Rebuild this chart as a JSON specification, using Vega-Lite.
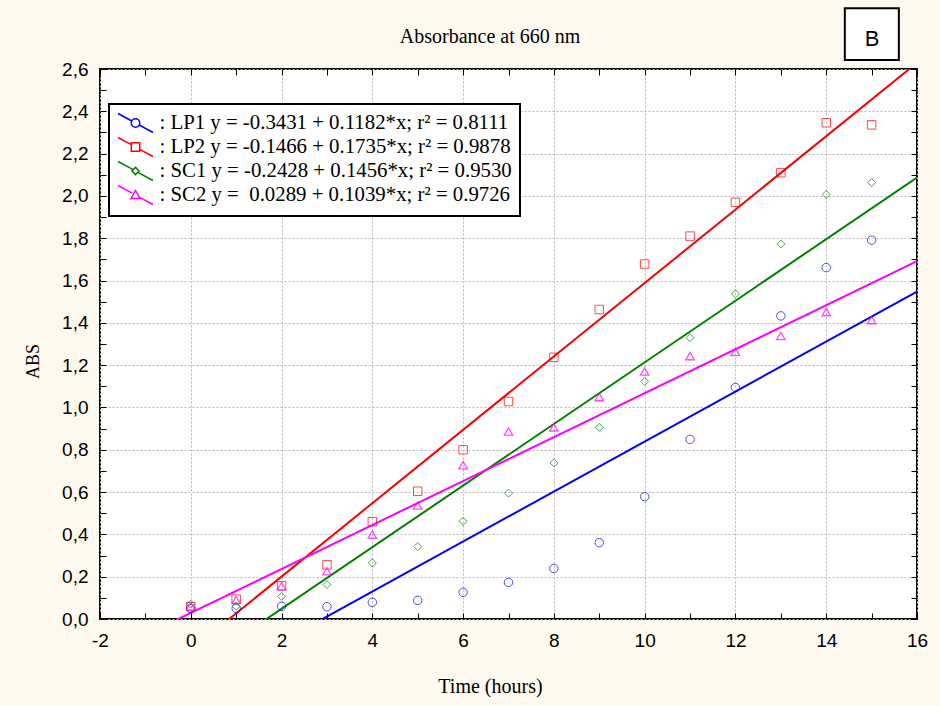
{
  "$schema": "https://vega.github.io/schema/vega-lite/v6.json",
  "width": 817,
  "height": 550,
  "autosize": "none",
  "padding": {"left": 100, "top": 69, "right": 23, "bottom": 87},
  "background": "#fdf9ee",
  "config": {
    "view": {"fill": "white", "stroke": "black", "strokeWidth": 2},
    "axis": {"domain": false, "tickColor": "black", "tickWidth": 1, "labelOverlap": false, "labelBound": false, "labelFlush": false}
  },
  "title": {"text": "Absorbance at 660 nm", "font": "Liberation Serif", "fontSize": 20, "fontWeight": "normal", "color": "black", "anchor": "middle", "dx": -18.5, "offset": 0, "dy": 56, "baseline": "alphabetic"},
  "datasets": {
    "fits": [
      {"series": "LP1", "x": -2, "y": -0.5795}, {"series": "LP1", "x": 16, "y": 1.5481},
      {"series": "LP2", "x": -2, "y": -0.4936}, {"series": "LP2", "x": 16, "y": 2.6294},
      {"series": "SC1", "x": -2, "y": -0.534}, {"series": "SC1", "x": 16, "y": 2.0868},
      {"series": "SC2", "x": -2, "y": -0.1789}, {"series": "SC2", "x": 16, "y": 1.6913}
    ],
    "points": [
      {"series": "LP1", "x": 0, "y": 0.05}, {"series": "LP1", "x": 1, "y": 0.05}, {"series": "LP1", "x": 2, "y": 0.06}, {"series": "LP1", "x": 3, "y": 0.058},
      {"series": "LP1", "x": 4, "y": 0.079}, {"series": "LP1", "x": 5, "y": 0.088}, {"series": "LP1", "x": 6, "y": 0.126}, {"series": "LP1", "x": 7, "y": 0.173},
      {"series": "LP1", "x": 8, "y": 0.239}, {"series": "LP1", "x": 9, "y": 0.361}, {"series": "LP1", "x": 10, "y": 0.578}, {"series": "LP1", "x": 11, "y": 0.849},
      {"series": "LP1", "x": 12, "y": 1.094}, {"series": "LP1", "x": 13, "y": 1.433}, {"series": "LP1", "x": 14, "y": 1.661}, {"series": "LP1", "x": 15, "y": 1.791},
      {"series": "LP2", "x": 0, "y": 0.058}, {"series": "LP2", "x": 1, "y": 0.094}, {"series": "LP2", "x": 2, "y": 0.157}, {"series": "LP2", "x": 3, "y": 0.256},
      {"series": "LP2", "x": 4, "y": 0.46}, {"series": "LP2", "x": 5, "y": 0.604}, {"series": "LP2", "x": 6, "y": 0.8}, {"series": "LP2", "x": 7, "y": 1.028},
      {"series": "LP2", "x": 8, "y": 1.237}, {"series": "LP2", "x": 9, "y": 1.463}, {"series": "LP2", "x": 10, "y": 1.678}, {"series": "LP2", "x": 11, "y": 1.81},
      {"series": "LP2", "x": 12, "y": 1.97}, {"series": "LP2", "x": 13, "y": 2.11}, {"series": "LP2", "x": 14, "y": 2.346}, {"series": "LP2", "x": 15, "y": 2.336},
      {"series": "SC1", "x": 0, "y": 0.07}, {"series": "SC1", "x": 1, "y": 0.06}, {"series": "SC1", "x": 2, "y": 0.107}, {"series": "SC1", "x": 3, "y": 0.163},
      {"series": "SC1", "x": 4, "y": 0.265}, {"series": "SC1", "x": 5, "y": 0.342}, {"series": "SC1", "x": 6, "y": 0.462}, {"series": "SC1", "x": 7, "y": 0.595},
      {"series": "SC1", "x": 8, "y": 0.738}, {"series": "SC1", "x": 9, "y": 0.906}, {"series": "SC1", "x": 10, "y": 1.123}, {"series": "SC1", "x": 11, "y": 1.33},
      {"series": "SC1", "x": 12, "y": 1.537}, {"series": "SC1", "x": 13, "y": 1.773}, {"series": "SC1", "x": 14, "y": 2.007}, {"series": "SC1", "x": 15, "y": 2.063},
      {"series": "SC2", "x": 0, "y": 0.06}, {"series": "SC2", "x": 1, "y": 0.09}, {"series": "SC2", "x": 2, "y": 0.155}, {"series": "SC2", "x": 3, "y": 0.226},
      {"series": "SC2", "x": 4, "y": 0.399}, {"series": "SC2", "x": 5, "y": 0.537}, {"series": "SC2", "x": 6, "y": 0.727}, {"series": "SC2", "x": 7, "y": 0.887},
      {"series": "SC2", "x": 8, "y": 0.906}, {"series": "SC2", "x": 9, "y": 1.049}, {"series": "SC2", "x": 10, "y": 1.17}, {"series": "SC2", "x": 11, "y": 1.243},
      {"series": "SC2", "x": 12, "y": 1.262}, {"series": "SC2", "x": 13, "y": 1.338}, {"series": "SC2", "x": 14, "y": 1.451}, {"series": "SC2", "x": 15, "y": 1.413}
    ],
    "note": [{"label": "B"}]
  },
  "resolve": {"axis": {"x": "independent", "y": "independent"}},
  "layer": [
    {
      "data": {"name": "fits"},
      "mark": {"type": "line", "clip": true, "strokeWidth": 2},
      "encoding": {
        "x": {"field": "x", "type": "quantitative",
          "scale": {"domain": [-2, 16], "nice": false, "zero": false},
          "axis": {"orient": "bottom", "values": [-2,-1,0,1,2,3,4,5,6,7,8,9,10,11,12,13,14,15,16],
            "labelExpr": "datum.value % 2 == 0 ? '' + datum.value : ''",
            "grid": true, "gridDash": [2, 2], "gridColor": "#b8b8b8", "gridWidth": 1,
            "gridOpacity": {"condition": {"test": "datum.value % 2 == 0", "value": 1}, "value": 0},
            "tickSize": -6, "labelFont": "Liberation Sans", "labelFontSize": 19, "labelColor": "black", "labelPadding": 18,
            "title": "Time (hours)", "titleFont": "Liberation Serif", "titleFontSize": 20, "titleFontWeight": "normal", "titleColor": "black",
            "titleX": 390, "titleY": 73, "titleBaseline": "alphabetic", "titleAlign": "center"}},
        "y": {"field": "y", "type": "quantitative",
          "scale": {"domain": [0, 2.6], "nice": false, "zero": false},
          "axis": {"orient": "left", "values": [0,0.1,0.2,0.3,0.4,0.5,0.6,0.7,0.8,0.9,1.0,1.1,1.2,1.3,1.4,1.5,1.6,1.7,1.8,1.9,2.0,2.1,2.2,2.3,2.4,2.5,2.6],
            "labelExpr": "round(datum.value*10) % 2 == 0 ? replace(format(datum.value, '.1f'), '.', ',') : ''",
            "grid": true, "gridDash": [2, 2], "gridColor": "#b8b8b8", "gridWidth": 1,
            "gridOpacity": {"condition": {"test": "round(datum.value*10) % 2 == 0", "value": 1}, "value": 0},
            "tickSize": -6, "labelFont": "Liberation Sans", "labelFontSize": 19, "labelColor": "black", "labelPadding": 18,
            "title": "ABS", "titleFont": "Liberation Serif", "titleFontSize": 18, "titleFontWeight": "normal", "titleColor": "black",
            "titleAngle": -90, "titleX": -61.5, "titleY": 292, "titleBaseline": "alphabetic", "titleAlign": "center"}},
        "color": {"field": "series", "type": "nominal",
          "scale": {"domain": ["LP1", "LP2", "SC1", "SC2"], "range": ["#0000ff", "#ff0000", "#008000", "#ff00ff"]},
          "legend": {"orient": "none", "legendX": 9, "legendY": 35, "title": null, "direction": "vertical",
            "fillColor": "white", "strokeColor": "black", "padding": 8, "symbolSize": 400, "symbolStrokeWidth": 1.5,
            "symbolOffset": 7.5, "labelOffset": 13, "rowPadding": -2, "labelFont": "Liberation Serif", "labelFontSize": 20.8,
            "labelColor": "black", "labelLimit": 0, "symbolType": "M-1.75,-0.95L1.75,0.95",
            "labelExpr": "datum.label == 'LP1' ? ': LP1 y = -0.3431 + 0.1182*x; r² = 0.8111' : datum.label == 'LP2' ? ': LP2 y = -0.1466 + 0.1735*x; r² = 0.9878' : datum.label == 'SC1' ? ': SC1 y = -0.2428 + 0.1456*x; r² = 0.9530' : ': SC2 y =\u00a0 0.0289 + 0.1039*x; r² = 0.9726'",
            "encode": {
              "symbols": {"update": {
                "shape": {"signal": "datum.value == 'LP1' ? 'M-1.75,-0.95L-0.37,-0.2M0.37,0.2L1.75,0.95M-0.42,0A0.42,0.42 0 1,0 0.42,0A0.42,0.42 0 1,0 -0.42,0Z' : datum.value == 'LP2' ? 'M-1.75,-0.95L-0.42,-0.23M0.42,0.23L1.75,0.95M-0.42,-0.42L0.42,-0.42L0.42,0.42L-0.42,0.42Z' : datum.value == 'SC1' ? 'M-1.75,-0.95L-0.23,-0.13M0.23,0.13L1.75,0.95M0,-0.36L0.36,0L0,0.36L-0.36,0Z' : 'M-1.75,-0.95L-0.33,-0.18M0.33,0.18L1.75,0.95M0,-0.45L0.45,0.35L-0.45,0.35Z'"},
                "strokeWidth": {"value": 1.5}}},
              "legend": {"update": {"strokeWidth": {"value": 2}}}
            }}}
      }
    },
    {
      "data": {"name": "points"},
      "transform": [{"filter": "datum.series == 'LP1'"}],
      "mark": {"type": "point", "shape": "circle", "filled": false, "strokeWidth": 1, "size": 72},
      "encoding": {
        "x": {"field": "x", "type": "quantitative", "axis": null},
        "y": {"field": "y", "type": "quantitative", "axis": null},
        "color": {"field": "series", "type": "nominal", "legend": null,
          "scale": {"domain": ["LP1", "LP2", "SC1", "SC2"], "range": ["#0000ff", "#ff0000", "#008000", "#ff00ff"]}}
      }
    },
    {
      "data": {"name": "points"},
      "transform": [{"filter": "datum.series == 'LP2'"}],
      "mark": {"type": "point", "shape": "square", "filled": false, "strokeWidth": 1, "size": 72},
      "encoding": {
        "x": {"field": "x", "type": "quantitative", "axis": null},
        "y": {"field": "y", "type": "quantitative", "axis": null},
        "color": {"field": "series", "type": "nominal", "legend": null,
          "scale": {"domain": ["LP1", "LP2", "SC1", "SC2"], "range": ["#0000ff", "#ff0000", "#008000", "#ff00ff"]}}
      }
    },
    {
      "data": {"name": "points"},
      "transform": [{"filter": "datum.series == 'SC1'"}],
      "mark": {"type": "point", "shape": "diamond", "filled": false, "strokeWidth": 1, "size": 64},
      "encoding": {
        "x": {"field": "x", "type": "quantitative", "axis": null},
        "y": {"field": "y", "type": "quantitative", "axis": null},
        "color": {"field": "series", "type": "nominal", "legend": null,
          "scale": {"domain": ["LP1", "LP2", "SC1", "SC2"], "range": ["#0000ff", "#ff0000", "#008000", "#ff00ff"]}}
      }
    },
    {
      "data": {"name": "points"},
      "transform": [{"filter": "datum.series == 'SC2'"}],
      "mark": {"type": "point", "shape": "triangle-up", "filled": false, "strokeWidth": 1.3, "size": 72},
      "encoding": {
        "x": {"field": "x", "type": "quantitative", "axis": null},
        "y": {"field": "y", "type": "quantitative", "axis": null},
        "color": {"field": "series", "type": "nominal", "legend": null,
          "scale": {"domain": ["LP1", "LP2", "SC1", "SC2"], "range": ["#0000ff", "#ff0000", "#008000", "#ff00ff"]}}
      }
    },
    {
      "data": {"name": "fits"},
      "mark": {"type": "point", "filled": false, "opacity": 0, "clip": true},
      "encoding": {
        "x": {"field": "x", "type": "quantitative",
          "axis": {"orient": "top", "values": [-2,-1,0,1,2,3,4,5,6,7,8,9,10,11,12,13,14,15,16], "labels": false, "grid": false, "tickSize": -6, "title": null}},
        "y": {"field": "y", "type": "quantitative",
          "axis": {"orient": "right", "values": [0,0.1,0.2,0.3,0.4,0.5,0.6,0.7,0.8,0.9,1.0,1.1,1.2,1.3,1.4,1.5,1.6,1.7,1.8,1.9,2.0,2.1,2.2,2.3,2.4,2.5,2.6], "labels": false, "grid": false, "tickSize": -6, "title": null}}
      }
    },
    {
      "data": {"name": "note"},
      "mark": {"type": "rect", "clip": false, "fill": "white", "stroke": "black", "strokeWidth": 2},
      "encoding": {
        "x": {"datum": 14.41, "type": "quantitative", "axis": null},
        "x2": {"datum": 15.6},
        "y": {"datum": 2.887, "type": "quantitative", "axis": null},
        "y2": {"datum": 2.643}
      }
    },
    {
      "data": {"name": "note"},
      "mark": {"type": "text", "clip": false, "font": "Liberation Sans", "fontSize": 22, "color": "black", "baseline": "middle", "align": "center"},
      "encoding": {
        "x": {"datum": 15.01, "type": "quantitative", "axis": null},
        "y": {"datum": 2.7395, "type": "quantitative", "axis": null},
        "text": {"field": "label"}
      }
    }
  ]
}
